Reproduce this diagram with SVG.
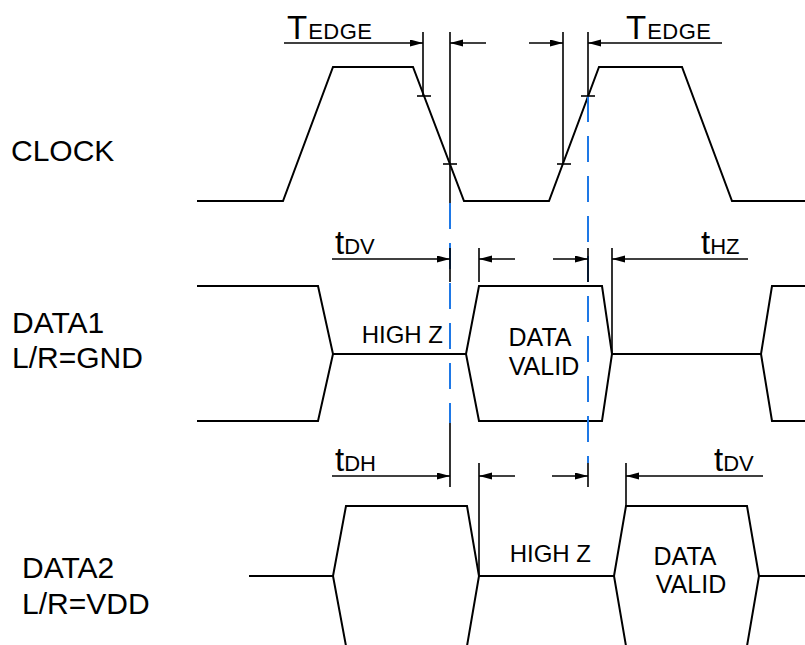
<svg xmlns="http://www.w3.org/2000/svg" width="805" height="645" viewBox="0 0 805 645">
<style>
.w{fill:none;stroke:#000;stroke-width:2;stroke-linejoin:miter}
.d{fill:none;stroke:#000;stroke-width:1.6}
.a{fill:none;stroke:#000;stroke-width:1.6;marker-end:url(#ah)}
.b{fill:none;stroke:#1e78e6;stroke-width:2;stroke-dasharray:26 14}
text{font-family:"Liberation Sans",Arial,sans-serif;fill:#000}
.lab{font-size:30px}
.big{font-size:33px}
.sm{font-size:22px}
.st{font-size:24px}
.dv{font-size:25px}
</style>
<defs>
<marker id="ah" markerWidth="14" markerHeight="8" refX="13" refY="3.5" orient="auto" markerUnits="userSpaceOnUse">
<path d="M0,0 L13,3.5 L0,7 z" fill="#000"/>
</marker>
</defs>
<g id="labels">
<text class="lab" x="11" y="161">CLOCK</text>
<text class="lab" x="12" y="333">DATA1</text>
<text class="lab" x="12" y="368">L/R=GND</text>
<text class="lab" x="22" y="578">DATA2</text>
<text class="lab" x="22" y="614">L/R=VDD</text>
</g>
<g id="clock">
<polyline class="w" points="197,201 283,201 333,67 413,67 464,201 549,201 599,67 682,67 732,201 805,201"/>
</g>
<g id="data1">
<polyline class="w" points="197,286 318,286 333,354 318,421 197,421"/>
<line class="w" x1="333" y1="354" x2="466" y2="354"/>
<polygon class="w" points="466,354 479,286 602,286 612,354 602,421 479,421"/>
<line class="w" x1="612" y1="354" x2="761" y2="354"/>
<polyline class="w" points="805,286 772,286 761,354 772,421 805,421"/>
<text class="st" x="443" y="343" text-anchor="end">HIGH Z</text>
<text class="dv" x="540" y="346" text-anchor="middle">DATA</text>
<text class="dv" x="544" y="375" text-anchor="middle">VALID</text>
</g>
<g id="data2">
<line class="w" x1="249" y1="576" x2="333" y2="576"/>
<polygon class="w" points="333,576 346,506 467,506 479,576 467,646 346,646"/>
<line class="w" x1="479" y1="576" x2="614" y2="576"/>
<polygon class="w" points="614,576 626,506 747,506 759,576 747,646 626,646"/>
<line class="w" x1="759" y1="576" x2="805" y2="576"/>
<text class="st" x="591" y="562" text-anchor="end">HIGH Z</text>
<text class="dv" x="685" y="565" text-anchor="middle">DATA</text>
<text class="dv" x="691" y="593" text-anchor="middle">VALID</text>
</g>
<g id="connectors">
<line class="b" x1="450" y1="203" x2="450" y2="423"/>
<line class="b" x1="588" y1="96" x2="588" y2="463"/>
<line class="d" x1="423" y1="32" x2="423" y2="96"/>
<line class="d" x1="450" y1="32" x2="450" y2="203"/>
<line class="d" x1="563" y1="32" x2="563" y2="164"/>
<line class="d" x1="588" y1="32" x2="588" y2="96"/>
<line class="d" x1="417" y1="96" x2="431" y2="96"/>
<line class="d" x1="443" y1="164" x2="457" y2="164"/>
<line class="d" x1="557" y1="164" x2="571" y2="164"/>
<line class="d" x1="581" y1="96" x2="595" y2="96"/>
<line class="a" x1="284" y1="43" x2="423" y2="43"/>
<line class="a" x1="486" y1="43" x2="450" y2="43"/>
<line class="a" x1="529" y1="43" x2="563" y2="43"/>
<line class="a" x1="722" y1="43" x2="588" y2="43"/>
<line class="d" x1="450" y1="248" x2="450" y2="282"/>
<line class="d" x1="479" y1="248" x2="479" y2="282"/>
<line class="d" x1="588" y1="248" x2="588" y2="282"/>
<line class="d" x1="612" y1="248" x2="612" y2="354"/>
<line class="a" x1="332" y1="259" x2="450" y2="259"/>
<line class="a" x1="515" y1="259" x2="479" y2="259"/>
<line class="a" x1="553" y1="259" x2="588" y2="259"/>
<line class="a" x1="748" y1="259" x2="612" y2="259"/>
<line class="d" x1="450" y1="423" x2="450" y2="487"/>
<line class="d" x1="479" y1="463" x2="479" y2="576"/>
<line class="d" x1="588" y1="463" x2="588" y2="487"/>
<line class="d" x1="626" y1="463" x2="626" y2="506"/>
<line class="a" x1="332" y1="476" x2="450" y2="476"/>
<line class="a" x1="515" y1="476" x2="479" y2="476"/>
<line class="a" x1="552" y1="476" x2="588" y2="476"/>
<line class="a" x1="763" y1="476" x2="626" y2="476"/>
</g>
<g id="dimlabels">
<text x="287" y="39"><tspan class="big">T</tspan><tspan class="sm" dx="1" letter-spacing="0.5">EDGE</tspan></text>
<text x="626" y="39"><tspan class="big">T</tspan><tspan class="sm" dx="1" letter-spacing="0.5">EDGE</tspan></text>
<text x="335" y="254"><tspan class="big">t</tspan><tspan class="sm">DV</tspan></text>
<text x="701" y="254"><tspan class="big">t</tspan><tspan class="sm">HZ</tspan></text>
<text x="335" y="471"><tspan class="big">t</tspan><tspan class="sm">DH</tspan></text>
<text x="714" y="471"><tspan class="big">t</tspan><tspan class="sm">DV</tspan></text>
</g>
</svg>
